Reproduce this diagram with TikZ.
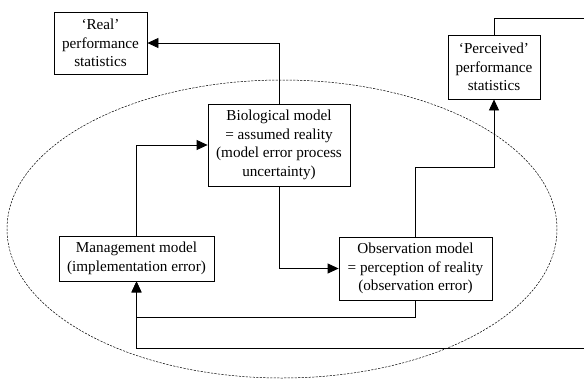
\documentclass[tikz,border=0pt]{standalone}
\usepackage{fontspec}
\setmainfont{Liberation Serif}
\usetikzlibrary{arrows.meta}
\tikzset{
  box/.style={draw, line width=0.8pt, align=center, inner sep=1pt,
    font=\fontsize{15.2}{18.5}\selectfont},
  arr/.style={-{Triangle[length=11pt,width=10pt]}},
  link/.style={line width=0.8pt}
}
\begin{document}
\begin{tikzpicture}[x=1pt,y=-1pt]
  \useasboundingbox (0,0) rectangle (584,378);
  % the model loop
  \draw[dashed, line width=0.5pt, dash pattern=on 2.2pt off 1.3pt]
    (282,229) ellipse [x radius=275, y radius=149];
  \node[box, minimum width=93pt, minimum height=62pt] (real) at (100.5,43)
    {‘Real’\\performance\\statistics};
  \node[box, minimum width=92pt, minimum height=64pt] (perc) at (494,67)
    {‘Perceived’\\performance\\statistics};
  \node[box, minimum width=142pt, minimum height=82pt] (bio) at (279,145)
    {Biological model\\= assumed reality\\(model error process\\uncertainty)};
  \node[box, minimum width=155pt, minimum height=45pt] (mgmt) at (136.5,258.5)
    {Management model\\(implementation error)};
  \node[box, minimum width=153pt, minimum height=63pt] (obs) at (415.5,268.5)
    {Observation model\\= perception of reality\\(observation error)};
  \coordinate (outtop) at (584,18);
  \coordinate (inbot) at (584,348);
  % connectors
  \draw[link, arr] (bio.north) |- (real.east);
  \draw[link, arr] (mgmt.north) |- (bio.west);
  \draw[link, arr] (bio.south) |- (obs.west);
  \draw[link, arr] (obs.north) -- ++(0,-69) -| (perc.south);
  \draw[link] (perc.north) |- (outtop);
  \draw[link, arr] (obs.south) -- ++(0,17) -| (mgmt.south);
  \draw[link, arr] (inbot) -| (mgmt.south);
\end{tikzpicture}
\end{document}
